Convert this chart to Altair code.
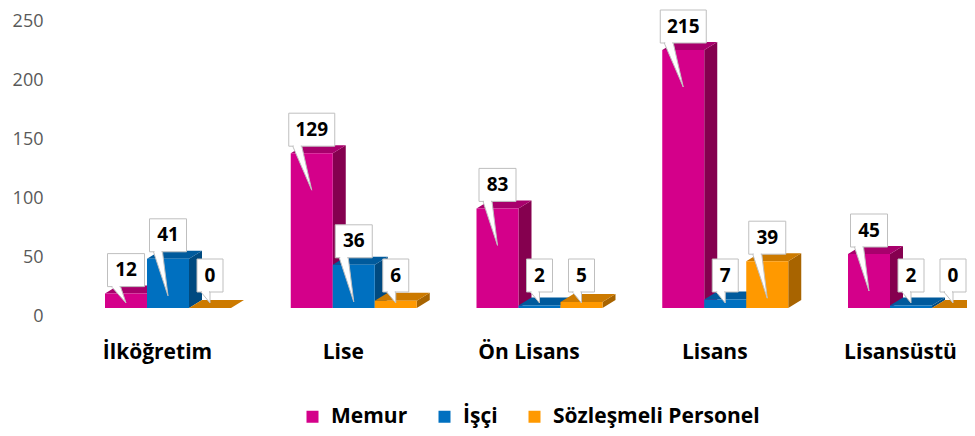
import json
import altair as alt
import pandas as pd

# ---------------- data ----------------
categories = ["İlköğretim", "Lise", "Ön Lisans", "Lisans", "Lisansüstü"]
series = ["Memur", "İşçi", "Sözleşmeli Personel"]
memur = [12, 129, 83, 215, 45]
isci = [41, 36, 2, 7, 2]
sozlesmeli = [0, 6, 5, 39, 0]
y_ticks = [0, 50, 100, 150, 200, 250]

front_colors = ["#D4008A", "#0070C0", "#FF9900"]
top_colors = ["#A8006C", "#005A9C", "#CC7A00"]
side_colors = ["#85004F", "#004A80", "#A86400"]

# ---------------- layout (pixels) ----------------
W, H = 917, 320           # plot area
PAD_L, PAD_B = 42, 100
XPX = 185.75              # px per category
X0 = 107                  # px of first category centre
YPX = 1.2                 # px per unit (bars)
BASE = 300                # px of bar base from plot top
AYPX = 1.18               # px per unit (axis wall)
ABASE = 308

FONT = "Open Sans"

def xu(px):
    return px / XPX

def yu(px):
    return px / YPX

BW = xu(42)
DX = xu(13)
DY = yu(8)

XS = alt.Scale(domain=[(0 - X0) / XPX, (W - X0) / XPX], nice=False, zero=False)
YS = alt.Scale(domain=[-(H - BASE) / YPX, BASE / YPX], nice=False, zero=False)
AS = alt.Scale(domain=[-(H - ABASE) / AYPX, ABASE / AYPX], nice=False, zero=False)

label_expr = json.dumps(categories, ensure_ascii=False) + "[datum.value]"
x_axis = alt.Axis(values=list(range(len(categories))), labelExpr=label_expr,
                  ticks=False, domain=False, grid=False, labelPadding=13,
                  labelFont=FONT, labelFontSize=21, labelFontWeight="bold",
                  labelColor="#000000", labelFlush=False, title=None)

vals = [memur, isci, sozlesmeli]
fronts, sides, tops, boxes, ptrs, gaps, texts = [], [], [], [], [], [], []
box_w = {1: 26, 2: 37, 3: 46}
for i, cat in enumerate(categories):
    for j, s in enumerate(series):
        v = vals[j][i]
        bid = f"{i}-{j}"
        left = i + xu(-52 + 42 * j)
        right = left + BW
        fronts.append(dict(x=left, x2=right, y=0, y2=v, series=s))
        sides.append(dict(id=bid, x=right, y=0, y2=v, c=side_colors[j]))
        sides.append(dict(id=bid, x=right + DX, y=DY, y2=v + DY, c=side_colors[j]))
        tops.append(dict(id=bid, y=v, x=left, x2=right, c=top_colors[j]))
        tops.append(dict(id=bid, y=v + DY, x=left + DX, x2=right + DX, c=top_colors[j]))
        cx = left + BW / 2
        w = xu(box_w[len(str(v))])
        bb = max(v + yu(7), yu(16))
        bt = bb + yu(33)
        bl = cx - w / 2
        boxes.append(dict(x=bl, x2=bl + w, y=bb, y2=bt))
        tip = max(v - yu(37), yu(5))
        ptrs.append(dict(id=bid, y=bb, x=bl + xu(4), x2=bl + xu(13)))
        ptrs.append(dict(id=bid, y=tip, x=cx, x2=cx))
        gaps.append(dict(x=bl + xu(5), x2=bl + xu(12), y=bb))
        texts.append(dict(x=cx, y=(bb + bt) / 2, t=str(v)))

def X(f="x"):
    return alt.X(f"{f}:Q", scale=XS, axis=x_axis)

def Y(f="y"):
    return alt.Y(f"{f}:Q", scale=YS, axis=None, stack=None)

side_layer = alt.Chart(pd.DataFrame(sides)).mark_area(interpolate="linear").encode(
    x=X(), y=Y(), y2="y2:Q", detail="id:N", fill=alt.Fill("c:N", scale=None))

top_layer = alt.Chart(pd.DataFrame(tops)).mark_area(orient="horizontal", interpolate="linear").encode(
    y=Y(), x=X(), x2="x2:Q", detail="id:N", fill=alt.Fill("c:N", scale=None))

front_layer = alt.Chart(pd.DataFrame(fronts)).mark_rect().encode(
    x=X(), x2="x2:Q", y=Y(), y2="y2:Q",
    color=alt.Color("series:N", scale=alt.Scale(domain=series, range=front_colors),
                    sort=series,
                    legend=alt.Legend(orient="none", legendX=252, legendY=398,
                                      direction="horizontal", title=None,
                                      symbolType="square", symbolSize=144,
                                      symbolStrokeWidth=0, labelFont=FONT,
                                      labelFontSize=21, labelFontWeight="bold",
                                      labelColor="#000000", columnPadding=26,
                                      labelOffset=8, labelLimit=400, padding=0)))

box_layer = alt.Chart(pd.DataFrame(boxes)).mark_rect(
    fill="white", stroke="#BFBFBF", strokeWidth=1).encode(
    x=X(), x2="x2:Q", y=Y(), y2="y2:Q")

ptr_layer = alt.Chart(pd.DataFrame(ptrs)).mark_area(
    orient="horizontal", fill="white", stroke="#BFBFBF", strokeWidth=1).encode(
    y=Y(), x=X(), x2="x2:Q", detail="id:N")

gap_layer = alt.Chart(pd.DataFrame(gaps)).mark_rule(stroke="white", strokeWidth=2.5).encode(
    x=X(), x2="x2:Q", y=Y())

text_layer = alt.Chart(pd.DataFrame(texts)).mark_text(
    font=FONT, fontSize=19, fontWeight="bold", color="#000000",
    align="center", baseline="middle").encode(
    x=X(), y=Y(), text="t:N")

bars = alt.layer(side_layer, top_layer, front_layer, box_layer, ptr_layer, gap_layer, text_layer)

axis_layer = alt.Chart(pd.DataFrame({"v": y_ticks})).mark_point(opacity=0).encode(
    y=alt.Y("v:Q", scale=AS,
            axis=alt.Axis(values=y_ticks, ticks=False, tickSize=0, domain=False, grid=False,
                          labelPadding=7, labelFont=FONT, labelFontSize=18,
                          labelColor="#595959", labelFlush=False, title=None)))

chart = alt.layer(axis_layer, bars).resolve_scale(y="independent").properties(
    width=W, height=H,
    autosize=alt.AutoSizeParams(type="none"),
    padding={"left": PAD_L, "top": 0, "right": 0, "bottom": PAD_B},
    background="white",
).configure_view(stroke=None)

chart.save("out.html", embed_options={"renderer": "svg", "actions": False})
